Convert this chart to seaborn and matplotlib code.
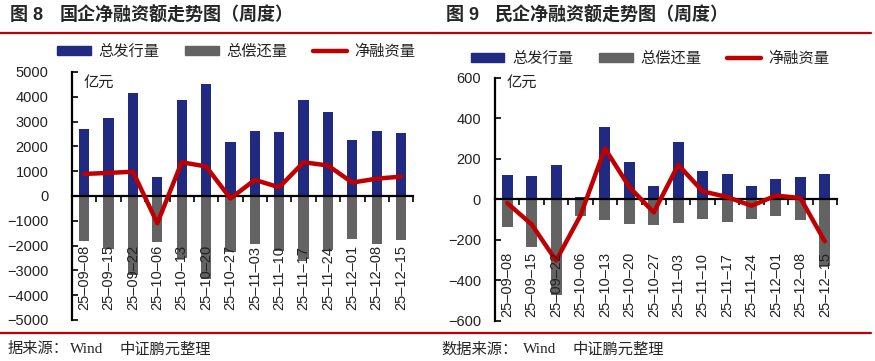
import matplotlib
matplotlib.use("Agg")
import matplotlib.pyplot as plt
import matplotlib.transforms as mtransforms
from matplotlib.lines import Line2D
import numpy as np
import pandas as pd
import seaborn as sns

sns.set_theme(style="white")
plt.rcParams["font.family"] = ["Liberation Sans", "Noto Sans CJK SC", "DejaVu Sans"]
plt.rcParams["axes.unicode_minus"] = True

BLUE = "#1f2a80"
GRAY = "#636363"
RED = "#c00000"

weeks = ["25-09-08", "25-09-15", "25-09-22", "25-10-06", "25-10-13", "25-10-20",
         "25-10-27", "25-11-03", "25-11-10", "25-11-17", "25-11-24", "25-12-01",
         "25-12-08", "25-12-15"]

# 国企（亿元）
issue_soe = [2700, 3150, 4160, 750, 3860, 4530, 2170, 2630, 2560, 3890, 3370, 2250, 2630, 2520]
repay_soe = [-1820, -2120, -3200, -1850, -2500, -3360, -2250, -1950, -2230, -2560, -2190, -1730, -1950, -1790]
net_soe = [890, 930, 980, -1100, 1360, 1190, -100, 650, 350, 1360, 1230, 540, 700, 780]

# 民企（亿元）
issue_poe = [118, 113, 168, 11, 355, 184, 64, 285, 138, 123, 64, 102, 110, 123]
repay_poe = [-137, -237, -471, -84, -104, -124, -129, -115, -99, -112, -96, -84, -104, -331]
net_poe = [-19, -124, -303, -80, 251, 60, -65, 170, 39, 11, -32, 18, 6, -208]

fig = plt.figure(figsize=(8.75, 3.61), dpi=100)


def draw_panel(rect, issue, repay, net, ylim, step, ypad, label_y, unit_y, bar_w):
    ax = fig.add_axes(rect)
    df = pd.DataFrame({"week": weeks, "issue": issue, "repay": repay, "net": net})
    sns.barplot(data=df, x="week", y="issue", color=BLUE, width=bar_w,
                linewidth=0, saturation=1, ax=ax, label="总发行量", zorder=2)
    sns.barplot(data=df, x="week", y="repay", color=GRAY, width=bar_w,
                linewidth=0, saturation=1, ax=ax, label="总偿还量", zorder=2)
    sns.lineplot(data=df, x="week", y="net", color=RED, linewidth=3.2, sort=False,
                 ax=ax, label="净融资量", zorder=4)
    ax.set_xlim(-0.5, len(weeks) - 0.5)
    ax.set_ylim(*ylim)
    ax.set_yticks(np.arange(ylim[0], ylim[1] + 1, step))
    ax.set_xlabel("")
    ax.set_ylabel("")
    for s in ["top", "right"]:
        ax.spines[s].set_visible(False)
    ax.spines["left"].set_linewidth(1.6)
    ax.spines["left"].set_color("black")
    ax.spines["bottom"].set_position(("data", 0))
    ax.spines["bottom"].set_linewidth(1.6)
    ax.spines["bottom"].set_color("black")
    ax.spines["bottom"].set_zorder(3)
    ax.set_xticks(np.arange(len(weeks)) + 0.5)
    ax.set_xticklabels([])
    ax.tick_params(axis="x", direction="out", length=4, width=1.2, color="black", bottom=True)
    ax.tick_params(axis="y", direction="in", length=4, width=1.2, color="black",
                   left=True, labelsize=10.5, pad=ypad, labelcolor="#222222")
    trans = mtransforms.blended_transform_factory(ax.transData, ax.transAxes)
    for i, w in enumerate(weeks):
        ax.text(i, label_y, w.replace("-", "–"), rotation=90, ha="center", va="bottom",
                fontsize=10.5, color="#222222", transform=trans, zorder=5)
    ax.text(0.035, unit_y, "亿元", transform=ax.transAxes, ha="left", va="top",
            fontsize=11, color="#222222")
    ax.get_legend().remove()
    return ax


ax1 = draw_panel([0.0823, 0.1136, 0.390, 0.687], issue_soe, repay_soe, net_soe,
                 (-5000, 5000), 1000, 17, 0.04, 0.985, 0.42)
ax2 = draw_panel([0.5657, 0.1116, 0.3909, 0.673], issue_poe, repay_poe, net_poe,
                 (-600, 600), 200, 10, 0.016, 1.01, 0.45)

handles = [plt.Rectangle((0, 0), 1, 1, color=BLUE),
           plt.Rectangle((0, 0), 1, 1, color=GRAY),
           Line2D([0], [0], color=RED, linewidth=3.2)]
names = ["总发行量", "总偿还量", "净融资量"]
for cx, cy in [(0.270, 0.856), (0.743, 0.8366)]:
    fig.legend(handles, names, loc="center", bbox_to_anchor=(cx, cy), ncol=3,
               frameon=False, fontsize=11, handlelength=2.2, handleheight=0.5,
               handletextpad=0.5, columnspacing=1.7, labelcolor="#222222")

# titles and rules
fig.text(0.012, 0.958, "图 8", fontsize=13, fontweight="bold", va="center", ha="left")
fig.text(0.068, 0.958, "国企净融资额走势图（周度）", fontsize=13, fontweight="bold",
         va="center", ha="left")
fig.text(0.510, 0.958, "图 9", fontsize=13, fontweight="bold", va="center", ha="left")
fig.text(0.566, 0.958, "民企净融资额走势图（周度）", fontsize=13, fontweight="bold",
         va="center", ha="left")
for x0, x1 in [(0.0, 0.500), (0.500, 0.995)]:
    fig.add_artist(Line2D([x0, x1], [0.909, 0.909], color=RED, linewidth=1.6))
    fig.add_artist(Line2D([x0, x1], [0.078, 0.078], color=RED, linewidth=1.6))

fig.text(0.009, 0.032, "据来源：", fontsize=11, va="center", ha="left")
fig.text(0.080, 0.032, "Wind", fontsize=11, va="center", ha="left", family="Liberation Serif")
fig.text(0.137, 0.032, "中证鹏元整理", fontsize=11, va="center", ha="left")
fig.text(0.505, 0.032, "数据来源：", fontsize=11, va="center", ha="left")
fig.text(0.598, 0.032, "Wind", fontsize=11, va="center", ha="left", family="Liberation Serif")
fig.text(0.654, 0.032, "中证鹏元整理", fontsize=11, va="center", ha="left")

fig.savefig("out.png", dpi=100)
